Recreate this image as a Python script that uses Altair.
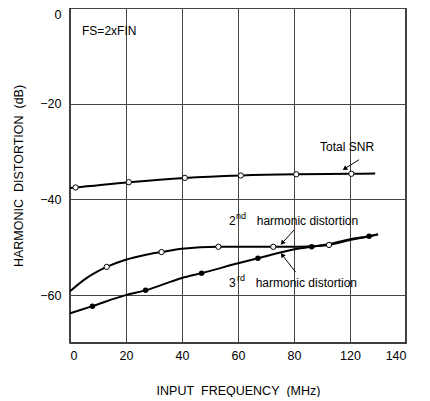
import altair as alt
import pandas as pd

FONT = "Liberation Sans"

# Axis ticks as printed on the original figure
x_ticks = [0, 20, 40, 60, 80, 120, 140]
y_ticks = [0, -20, -40, -60]

# Total SNR curve
snr_x = [0, 2, 21, 41, 61, 81.6, 120.5, 129]
snr_y = [-37.6, -37.5, -36.4, -35.5, -35.0, -34.75, -34.65, -34.6]
snr_mx = [2, 21, 41, 61, 81.6, 120.5]
snr_my = [-37.5, -36.4, -35.5, -35.0, -34.75, -34.65]

# 2nd harmonic distortion curve (open circles)
h2_x = [0, 5, 13.1, 19.9, 26.8, 32.7, 40, 53, 60.4, 72.6, 82, 92, 105, 120, 126, 130]
h2_y = [-59.2, -56.8, -54.1, -52.6, -51.6, -51.0, -50.3, -49.9, -49.9, -49.9, -49.9, -49.8, -49.5, -48.5, -47.8, -47.3]
h2_mx = [13.1, 32.7, 53, 72.6, 105]
h2_my = [-54.1, -51.0, -49.9, -49.9, -49.5]

# 3rd harmonic distortion curve (filled dots)
h3_x = [0, 8, 19.9, 27, 40, 47, 60.4, 67.1, 82.4, 92.6, 105, 120, 126.8, 130]
h3_y = [-63.8, -62.3, -60.0, -59.0, -56.4, -55.4, -53.3, -52.3, -50.3, -49.9, -49.3, -48.3, -47.7, -47.3]
h3_mx = [8, 27, 47, 67.1, 92.6, 126.8]
h3_my = [-62.3, -59.0, -55.4, -52.3, -49.9, -47.7]

# Annotations
ann_text = ["FS=2xFIN", "Total SNR", "2", "harmonic distortion", "3", "harmonic distortion"]
ann_x = [4.3, 98.6, 56.8, 66.7, 56.8, 66.3]
ann_y = [-4.9, -29.0, -44.5, -44.5, -57.4, -57.4]
sup_text = ["nd", "rd"]
sup_x = [59.3, 59.6]
sup_y = [-43.5, -56.4]

# Arrows (tail -> head)
arr_x = [123.2, 80.0, 81.2]
arr_y = [-31.7, -46.4, -55.2]
arr_x2 = [116.2, 75.8, 75.8]
arr_y2 = [-33.6, -49.1, -51.6]
arr_angle = [237, 221, 323]

lines = pd.concat([
    pd.DataFrame({"s": "snr", "x": snr_x, "y": snr_y}),
    pd.DataFrame({"s": "h2", "x": h2_x, "y": h2_y}),
    pd.DataFrame({"s": "h3", "x": h3_x, "y": h3_y}),
])
open_pts = pd.DataFrame({"x": snr_mx + h2_mx, "y": snr_my + h2_my})
filled_pts = pd.DataFrame({"x": h3_mx, "y": h3_my})
ann = pd.DataFrame({"x": ann_x, "y": ann_y, "t": ann_text})
sup = pd.DataFrame({"x": sup_x, "y": sup_y, "t": sup_text})
arr = pd.DataFrame({"x": arr_x, "y": arr_y, "x2": arr_x2, "y2": arr_y2, "a": arr_angle})

W, H = 336, 335
xscale = alt.Scale(domain=[0, 80, 120, 140], range=[0, W * 4 / 6, W * 5 / 6, W], nice=False)
yscale = alt.Scale(domain=[-70, 0], nice=False, zero=False)

xaxis = alt.Axis(values=x_ticks, title="INPUT\u00a0\u00a0FREQUENCY\u00a0\u00a0(MHz)", grid=True,
                 ticks=False, labelPadding=6, titlePadding=23, domain=False)
yaxis = alt.Axis(values=y_ticks, title="HARMONIC\u00a0\u00a0DISTORTION\u00a0\u00a0(dB)", grid=True,
                 ticks=False, labelPadding=9, titlePadding=14, labelFlush=True, domain=False)

X = alt.X("x:Q", scale=xscale, axis=xaxis)
Y = alt.Y("y:Q", scale=yscale, axis=yaxis)
Xn = alt.X("x:Q", scale=xscale)
Yn = alt.Y("y:Q", scale=yscale)

line_layer = alt.Chart(lines).mark_line(color="black", strokeWidth=2, interpolate="monotone").encode(
    x=X, y=Y, detail="s:N")
open_layer = alt.Chart(open_pts).mark_point(shape="circle", filled=True, fill="white", stroke="black",
                                             strokeWidth=1, size=28, opacity=1).encode(x=Xn, y=Yn)
filled_layer = alt.Chart(filled_pts).mark_point(shape="circle", filled=True, color="black",
                                               size=30, opacity=1).encode(x=Xn, y=Yn)
text_layer = alt.Chart(ann).mark_text(align="left", baseline="middle", font=FONT, fontSize=12,
                                      color="black").encode(x=Xn, y=Yn, text="t:N")
sup_layer = alt.Chart(sup).mark_text(align="left", baseline="middle", font=FONT, fontSize=9,
                                     color="black").encode(x=Xn, y=Yn, text="t:N")
arrow_line = alt.Chart(arr).mark_rule(color="black", strokeWidth=1).encode(
    x=Xn, y=Yn, x2="x2:Q", y2="y2:Q")
arrow_head = alt.Chart(arr).mark_point(shape="triangle-up", filled=True, color="black", size=28,
                                       opacity=1).encode(
    x=alt.X("x2:Q", scale=xscale), y=alt.Y("y2:Q", scale=yscale), angle=alt.Angle("a:Q", scale=None))

chart = alt.layer(line_layer, open_layer, filled_layer, arrow_line, arrow_head, text_layer, sup_layer).properties(
    width=W, height=H, padding={"left": 4, "top": 0, "right": 5, "bottom": 0}
).configure(background="white").configure_view(stroke="black", strokeWidth=1.5).configure_axis(
    labelFont=FONT, titleFont=FONT, labelFontSize=12.5, titleFontSize=12.5, titleFontWeight="normal",
    labelColor="black", titleColor="black", gridColor="#444", gridWidth=1, gridOpacity=1
)

chart.save("out.html", embed_options={"renderer": "svg", "actions": False})
